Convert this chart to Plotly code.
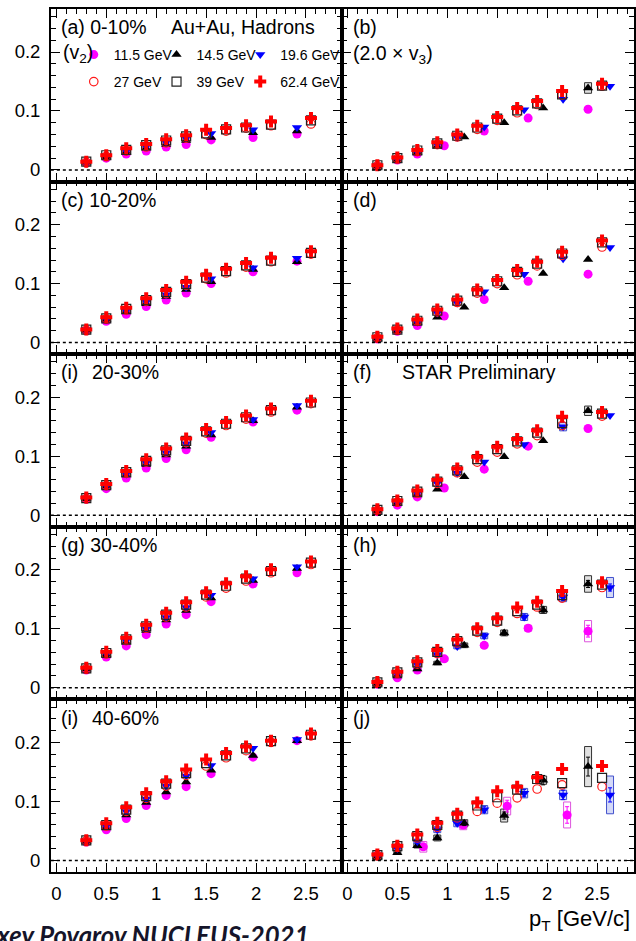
import plotly.graph_objects as go

# ---------------- data ----------------
ENERGIES = ["11.5", "14.5", "19.6", "27", "39", "62.4"]
ENERGY_LABELS = ["11.5 GeV", "14.5 GeV", "19.6 GeV", "27 GeV", "39 GeV", "62.4 GeV"]

# pT bin centres
PT_HIGH = [0.3, 0.5, 0.7, 0.9, 1.1, 1.3, 1.5, 1.7, 1.9, 2.15, 2.55]      # 27, 39, 62.4 GeV
PT_V2_LOW = [0.3, 0.5, 0.7, 0.9, 1.1, 1.3, 1.55, 1.97, 2.41]             # 11.5, 14.5, 19.6 GeV (v2)
PT_V3_196 = [0.3, 0.5, 0.7, 0.9, 1.1, 1.37, 1.77, 2.16, 2.63]
PT_V3_145 = [0.3, 0.5, 0.7, 0.9, 1.17, 1.57, 1.96, 2.41]
PT_V3_115 = [0.3, 0.5, 0.7, 0.97, 1.37, 1.81, 2.41]
PT_V3_115_PERIPH = [0.3, 0.76, 1.16, 1.6, 2.2]

PT_V2 = {"11.5": PT_V2_LOW, "14.5": PT_V2_LOW, "19.6": PT_V2_LOW,
         "27": PT_HIGH, "39": PT_HIGH, "62.4": PT_HIGH}
PT_V3 = {"11.5": PT_V3_115, "14.5": PT_V3_145, "19.6": PT_V3_196,
         "27": PT_HIGH, "39": PT_HIGH, "62.4": PT_HIGH}
PT_V3_J = {"11.5": PT_V3_115_PERIPH, "14.5": PT_V3_145, "19.6": PT_V3_196,
           "27": PT_HIGH, "39": PT_HIGH, "62.4": PT_HIGH}

# v2 (left column)
v2_0_10 = {
    "11.5": [0.012, 0.020, 0.027, 0.032, 0.039, 0.043, 0.051, 0.055, 0.061],
    "14.5": [0.013, 0.022, 0.030, 0.037, 0.043, 0.050, 0.055, 0.063, 0.066],
    "19.6": [0.013, 0.024, 0.032, 0.040, 0.047, 0.054, 0.062, 0.068, 0.072],
    "27":   [0.013, 0.023, 0.032, 0.039, 0.046, 0.054, 0.060, 0.066, 0.071, 0.075, 0.078],
    "39":   [0.014, 0.025, 0.034, 0.042, 0.050, 0.057, 0.062, 0.069, 0.072, 0.077, 0.084],
    "62.4": [0.014, 0.025, 0.037, 0.044, 0.052, 0.059, 0.068, 0.071, 0.076, 0.082, 0.088],
}
v2_10_20 = {
    "11.5": [0.020, 0.036, 0.048, 0.061, 0.072, 0.084, 0.100, 0.120, 0.138],
    "14.5": [0.021, 0.039, 0.052, 0.066, 0.078, 0.090, 0.103, 0.124, 0.137],
    "19.6": [0.022, 0.040, 0.054, 0.069, 0.081, 0.094, 0.108, 0.127, 0.143],
    "27":   [0.021, 0.040, 0.055, 0.070, 0.083, 0.097, 0.108, 0.118, 0.128, 0.137, 0.150],
    "39":   [0.022, 0.041, 0.057, 0.072, 0.086, 0.099, 0.110, 0.121, 0.131, 0.139, 0.152],
    "62.4": [0.022, 0.043, 0.059, 0.075, 0.089, 0.103, 0.115, 0.125, 0.135, 0.144, 0.155],
}
v2_20_30 = {
    "11.5": [0.027, 0.045, 0.063, 0.080, 0.096, 0.111, 0.132, 0.158, 0.178],
    "14.5": [0.028, 0.049, 0.068, 0.086, 0.102, 0.117, 0.136, 0.160, 0.183],
    "19.6": [0.029, 0.050, 0.070, 0.089, 0.106, 0.121, 0.140, 0.162, 0.186],
    "27":   [0.028, 0.050, 0.071, 0.090, 0.107, 0.123, 0.139, 0.152, 0.163, 0.175, 0.189],
    "39":   [0.029, 0.051, 0.073, 0.092, 0.110, 0.126, 0.142, 0.155, 0.166, 0.178, 0.191],
    "62.4": [0.030, 0.053, 0.075, 0.095, 0.113, 0.130, 0.146, 0.158, 0.169, 0.181, 0.194],
}
v2_30_40 = {
    "11.5": [0.030, 0.052, 0.071, 0.090, 0.108, 0.124, 0.146, 0.176, 0.195],
    "14.5": [0.032, 0.056, 0.077, 0.097, 0.115, 0.131, 0.152, 0.182, 0.202],
    "19.6": [0.033, 0.058, 0.080, 0.100, 0.119, 0.136, 0.157, 0.185, 0.205],
    "27":   [0.032, 0.057, 0.080, 0.101, 0.120, 0.137, 0.154, 0.169, 0.181, 0.195, 0.209],
    "39":   [0.033, 0.059, 0.082, 0.104, 0.124, 0.141, 0.158, 0.173, 0.185, 0.198, 0.212],
    "62.4": [0.034, 0.061, 0.085, 0.107, 0.127, 0.145, 0.162, 0.177, 0.189, 0.201, 0.214],
}
v2_40_60 = {
    "11.5": [0.031, 0.052, 0.071, 0.093, 0.110, 0.125, 0.147, 0.175, 0.203],
    "14.5": [0.032, 0.055, 0.077, 0.098, 0.116, 0.133, 0.153, 0.178, 0.203],
    "19.6": [0.033, 0.058, 0.083, 0.104, 0.126, 0.143, 0.161, 0.190, 0.205],
    "27":   [0.033, 0.058, 0.083, 0.105, 0.126, 0.144, 0.160, 0.174, 0.186, 0.200, 0.211],
    "39":   [0.034, 0.060, 0.086, 0.109, 0.130, 0.148, 0.165, 0.178, 0.190, 0.202, 0.213],
    "62.4": [0.034, 0.063, 0.090, 0.114, 0.134, 0.154, 0.171, 0.182, 0.193, 0.203, 0.215],
}

# 2.0 x v3 (right column)
v3_0_10 = {
    "11.5": [0.006, 0.017, 0.027, 0.041, 0.066, 0.088, 0.103],
    "14.5": [0.006, 0.016, 0.029, 0.040, 0.056, 0.080, 0.105, 0.139],
    "19.6": [0.007, 0.019, 0.031, 0.043, 0.055, 0.073, 0.102, 0.120, 0.142],
    "27":   [0.007, 0.019, 0.031, 0.043, 0.056, 0.069, 0.084, 0.097, 0.111, 0.127, 0.142],
    "39":   [0.008, 0.020, 0.033, 0.045, 0.058, 0.072, 0.087, 0.101, 0.113, 0.128, 0.143],
    "62.4": [0.008, 0.021, 0.034, 0.047, 0.060, 0.075, 0.090, 0.105, 0.117, 0.134, 0.146],
}
v3_10_20 = {
    "11.5": [0.006, 0.019, 0.029, 0.045, 0.073, 0.104, 0.116],
    "14.5": [0.007, 0.020, 0.034, 0.043, 0.060, 0.093, 0.117, 0.141],
    "19.6": [0.008, 0.021, 0.035, 0.050, 0.067, 0.086, 0.116, 0.142, 0.161],
    "27":   [0.008, 0.021, 0.036, 0.052, 0.068, 0.084, 0.100, 0.115, 0.130, 0.148, 0.162],
    "39":   [0.009, 0.022, 0.037, 0.054, 0.071, 0.087, 0.104, 0.120, 0.134, 0.151, 0.170],
    "62.4": [0.010, 0.024, 0.039, 0.056, 0.073, 0.090, 0.106, 0.123, 0.137, 0.154, 0.173],
}
v3_20_30 = {
    "11.5": [0.006, 0.017, 0.031, 0.046, 0.078, 0.117, 0.147],
    "14.5": [0.007, 0.020, 0.034, 0.044, 0.065, 0.099, 0.126, 0.177],
    "19.6": [0.009, 0.022, 0.037, 0.054, 0.071, 0.090, 0.120, 0.150, 0.169],
    "27":   [0.008, 0.022, 0.037, 0.054, 0.072, 0.090, 0.107, 0.121, 0.135, 0.152, 0.168],
    "39":   [0.009, 0.024, 0.040, 0.057, 0.076, 0.095, 0.112, 0.125, 0.140, 0.156, 0.172],
    "62.4": [0.010, 0.025, 0.042, 0.060, 0.079, 0.099, 0.116, 0.129, 0.144, 0.167, 0.175],
}
v3_30_40 = {
    "11.5": [0.006, 0.017, 0.030, 0.049, 0.072, 0.101, 0.096],
    "14.5": [0.007, 0.020, 0.032, 0.042, 0.072, 0.093, 0.132, 0.176],
    "19.6": [0.009, 0.024, 0.040, 0.056, 0.070, 0.088, 0.120, 0.154, 0.170],
    "27":   [0.008, 0.024, 0.040, 0.058, 0.076, 0.094, 0.111, 0.126, 0.137, 0.152, 0.170],
    "39":   [0.009, 0.026, 0.043, 0.061, 0.079, 0.097, 0.114, 0.130, 0.141, 0.157, 0.175],
    "62.4": [0.010, 0.027, 0.045, 0.064, 0.082, 0.101, 0.118, 0.136, 0.146, 0.164, 0.179],
}
v3_40_60 = {
    "11.5": [0.008, 0.023, 0.060, 0.092, 0.077],
    "14.5": [0.006, 0.013, 0.025, 0.038, 0.063, 0.076, 0.136, 0.159],
    "19.6": [0.008, 0.020, 0.032, 0.052, 0.063, 0.086, 0.114, 0.111, 0.111],
    "27":   [0.008, 0.022, 0.038, 0.056, 0.072, 0.083, 0.097, 0.106, 0.121, 0.128, 0.125],
    "39":   [0.009, 0.024, 0.041, 0.060, 0.076, 0.093, 0.107, 0.120, 0.138, 0.131, 0.140],
    "62.4": [0.010, 0.025, 0.044, 0.064, 0.079, 0.098, 0.117, 0.125, 0.141, 0.155, 0.160],
}

# systematic (box) and statistical (bar) uncertainties, where visible
sys_0_10 = {
    "14.5": [0, 0, 0, 0, 0, 0, 0, 0.009],
}
sys_20_30 = {
    "14.5": [0, 0, 0, 0, 0, 0, 0, 0.008],
    "19.6": [0, 0, 0, 0, 0, 0, 0, 0.007, 0],
}
sys_30_40 = {
    "11.5": [0.003, 0.003, 0.003, 0.004, 0.004, 0.005, 0.018],
    "14.5": [0.002, 0.002, 0.003, 0.003, 0.004, 0.005, 0.006, 0.014],
    "19.6": [0.002, 0.002, 0.003, 0.003, 0.004, 0.005, 0.006, 0.008, 0.017],
}
stat_30_40 = {
    "11.5": [0.001, 0.001, 0.002, 0.002, 0.003, 0.004, 0.010],
    "14.5": [0.001, 0.001, 0.002, 0.002, 0.003, 0.004, 0.005, 0.006],
    "19.6": [0.001, 0.001, 0.002, 0.002, 0.003, 0.004, 0.005, 0.006, 0.006],
}
sys_40_60 = {
    "11.5": [0.006, 0.009, 0.008, 0.015, 0.022],
    "14.5": [0.003, 0.003, 0.004, 0.005, 0.006, 0.011, 0.007, 0.034],
    "19.6": [0.003, 0.003, 0.004, 0.005, 0.006, 0.007, 0.008, 0.008, 0.032],
}
stat_40_60 = {
    "11.5": [0.002, 0.004, 0.004, 0.010, 0.014],
    "14.5": [0.001, 0.002, 0.002, 0.003, 0.004, 0.006, 0.008, 0.016],
    "19.6": [0.001, 0.002, 0.002, 0.003, 0.004, 0.005, 0.006, 0.008, 0.012],
}

X_TICKS = [0, 0.5, 1, 1.5, 2, 2.5]
X_TICKTEXT = ["0", "0.5", "1", "1.5", "2", "2.5"]
Y_TICKS = [0, 0.1, 0.2]
Y_TICKTEXT = ["0", "0.1", "0.2"]

PANEL_LABELS = ["(a) 0-10%", "(b)", "(c) 10-20%", "(d)", "(i)",
                "(f)", "(g) 30-40%", "(h)", "(i)", "(j)"]

# ---------------- styling ----------------
W, H = 636, 941
ROW_TOP0, ROW_H = 9.0, 172.6
COL_PX = [(51.0, 343.0), (343.0, 636.0)]
X_RANGES = [[-0.055, 2.86], [-0.055, 2.87]]
Y_RANGE = [-0.0197, 0.2729]
FONT = "Liberation Sans, Arial, Helvetica, sans-serif"

STYLE = {
    "11.5": dict(symbol="circle", color="#ff00ff", size=9, line=dict(width=0)),
    "14.5": dict(symbol="triangle-up", color="black", size=9, line=dict(width=0)),
    "19.6": dict(symbol="triangle-down", color="#0000ff", size=9, line=dict(width=0)),
    "27": dict(symbol="circle-open", color="#ff1a1a", size=8.5, line=dict(width=1.2, color="#ff1a1a")),
    "39": dict(symbol="square-open", color="#222222", size=9, line=dict(width=1.2, color="#222222")),
    "62.4": dict(symbol="cross", color="#ff0000", size=10, line=dict(width=0)),
}
SYS_STYLE = {
    "11.5": dict(line="#dd55dd", fill="rgba(0,0,0,0)"),
    "14.5": dict(line="#333333", fill="rgba(0,0,0,0.12)"),
    "19.6": dict(line="#4050cc", fill="rgba(60,80,220,0.22)"),
}
# legend placement (pixels): marker centre x of each column, top y of each row
LEG_MARKER_X = [94, 177, 261]
LEG_ROW_TOP = [39, 66]

panels = [
    (v2_0_10, PT_V2, None, None), (v3_0_10, PT_V3, sys_0_10, None),
    (v2_10_20, PT_V2, None, None), (v3_10_20, PT_V3, None, None),
    (v2_20_30, PT_V2, None, None), (v3_20_30, PT_V3, sys_20_30, None),
    (v2_30_40, PT_V2, None, None), (v3_30_40, PT_V3, sys_30_40, stat_30_40),
    (v2_40_60, PT_V2, None, None), (v3_40_60, PT_V3_J, sys_40_60, stat_40_60),
]

fig = go.Figure()
layout = {}
AX = dict(showline=True, linecolor="black", linewidth=1.5, mirror="allticks",
          ticks="inside", ticklen=9, tickwidth=1, tickcolor="black",
          showgrid=False, zeroline=False,
          tickfont=dict(family=FONT, size=18.5, color="black"))

LEGEND_IDS = ["legend", "legend2", "legend3", "legend4", "legend5", "legend6"]

for k, (vals, pts, sys, stat) in enumerate(panels):
    r, c = divmod(k, 2)
    sfx = "" if k == 0 else str(k + 1)
    xa, ya = "x" + sfx, "y" + sfx
    for i, e in enumerate(ENERGIES):
        st = STYLE[e]
        err = None
        if stat is not None and e in stat:
            err = dict(type="data", array=stat[e], color=st["color"], thickness=1, width=2, visible=True)
        fig.add_trace(go.Scatter(
            x=pts[e], y=vals[e], xaxis=xa, yaxis=ya, mode="markers",
            name=ENERGY_LABELS[i], showlegend=(k == 0),
            legend=LEGEND_IDS[i],
            marker=dict(symbol=st["symbol"], color=st["color"], size=st["size"], line=st["line"]),
            error_y=err,
        ))
        if sys is not None and e in sys:
            ss = SYS_STYLE[e]
            for xv, yv, sv in zip(pts[e], vals[e], sys[e]):
                if sv <= 0:
                    continue
                fig.add_shape(type="rect", xref=xa, yref=ya, x0=xv - 0.035, x1=xv + 0.035,
                              y0=yv - sv, y1=yv + sv, layer="below",
                              line=dict(color=ss["line"], width=1), fillcolor=ss["fill"])
    # dotted zero line
    fig.add_shape(type="line", xref=xa + " domain", yref=ya, x0=0, x1=1, y0=0, y1=0,
                  line=dict(color="black", width=1.5, dash="dot"))
    top = ROW_TOP0 + ROW_H * r
    bot = top + ROW_H
    x0, x1 = COL_PX[c]
    layout["xaxis" + sfx] = dict(domain=[x0 / W, x1 / W], anchor=ya, range=X_RANGES[c],
                                 tickmode="array", tickvals=X_TICKS, ticktext=X_TICKTEXT,
                                 showticklabels=(r == 4), ticklabelstandoff=4,
                                 minor=dict(dtick=0.1, tick0=0, ticks="inside", ticklen=5,
                                            tickwidth=1, tickcolor="black"),
                                 **AX)
    layout["yaxis" + sfx] = dict(domain=[1 - bot / H, 1 - top / H], anchor=xa, range=Y_RANGE,
                                 tickmode="array", tickvals=Y_TICKS, ticktext=Y_TICKTEXT,
                                 showticklabels=(c == 0), ticklabelstandoff=5,
                                 minor=dict(dtick=0.02, tick0=0, ticks="inside", ticklen=5,
                                            tickwidth=1, tickcolor="black"),
                                 **AX)

annotations = []


def add_text(k, text, xfrac, yfrac, size=19.5):
    sfx = "" if k == 0 else str(k + 1)
    annotations.append(dict(text=text, xref="x" + sfx + " domain", yref="y" + sfx + " domain",
                            x=xfrac, y=yfrac, xanchor="left", yanchor="middle", showarrow=False,
                            font=dict(family=FONT, size=size, color="black")))


for k, lab in enumerate(PANEL_LABELS):
    c = k % 2
    add_text(k, lab, 0.028 if c == 0 else 0.030, 0.895)
add_text(0, "Au+Au, Hadrons", 0.405, 0.895)
add_text(0, "(v<sub>2</sub>)", 0.034, 0.745)
add_text(1, "(2.0 × v<sub>3</sub>)", 0.030, 0.735)
add_text(4, "20-30%", 0.135, 0.895)
add_text(5, "STAR Preliminary", 0.198, 0.895)
add_text(8, "40-60%", 0.135, 0.895)

annotations.append(dict(text="p<sub>T</sub> [GeV/c]", xref="paper", yref="paper",
                        x=634 / W, y=1 - 920 / H, xanchor="right", yanchor="middle",
                        showarrow=False, font=dict(family=FONT, size=22, color="black")))
annotations.append(dict(text="Alexey Povarov NUCLEUS-2021", xref="paper", yref="paper",
                        x=312 / W, y=1 - 935 / H, xanchor="right", yanchor="middle",
                        showarrow=False,
                        font=dict(family="Lato, Noto Sans, sans-serif", size=25.7, color="#15152a",
                                  weight="bold", style="italic")))

LEG = dict(orientation="h", xanchor="left", yanchor="top",
           bgcolor="rgba(0,0,0,0)", borderwidth=0, font=dict(family=FONT, size=14, color="black"),
           itemclick=False, itemdoubleclick=False)

legends = {}
for i, lid in enumerate(LEGEND_IDS):
    row, col = divmod(i, 3)
    legends[lid] = dict(x=(LEG_MARKER_X[col] - 20) / W, y=1 - LEG_ROW_TOP[row] / H, **LEG)

fig.update_layout(
    width=W, height=H, autosize=False,
    margin=dict(l=0, r=0, t=0, b=0),
    paper_bgcolor="white", plot_bgcolor="white",
    annotations=annotations,
    **legends,
    **layout,
)

fig.write_html("out.html")
